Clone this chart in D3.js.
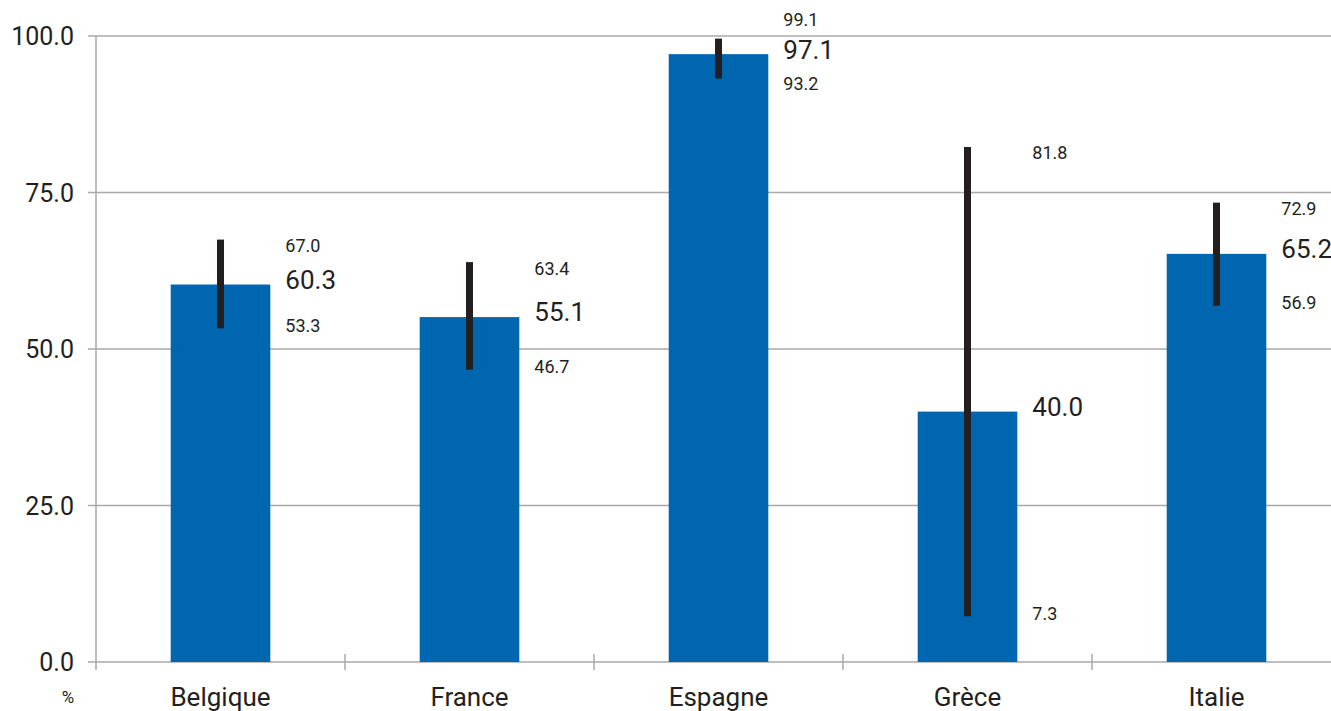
<!DOCTYPE html>
<html><head><meta charset="utf-8">
<script src="https://cdn.jsdelivr.net/npm/d3@7"></script>
<style>body{margin:0;background:#fff}svg{display:block}text{font-family:Roboto,"DejaVu Sans",sans-serif;fill:#231f20}</style>
</head><body>
<svg id="c" width="1331" height="711"></svg>
<script>
const categories = ["Belgique","France","Espagne","Grèce","Italie"];
const values = [60.3,55.1,97.1,40.0,65.2];
const upper = [67.0,63.4,99.1,81.8,72.9];
const lower = [53.3,46.7,93.2,7.3,56.9];
const yTicks = [0,25,50,75,100];
const unitLabel = "%";

(function(){
const svg = d3.select("#c");
const mLeft = 96, mTop = 36, mBottom = 662, mRight = 1341;
const x = d3.scaleBand().domain(categories).range([mLeft,mRight]).paddingInner(0.6).paddingOuter(0.3);
const xb = d3.scaleBand().domain(categories).range([mLeft,mRight]);
const y = d3.scaleLinear().domain([0,100]).range([mBottom,mTop]);

// gridlines
svg.append("g").selectAll("line").data(yTicks).join("line")
  .attr("x1",88).attr("x2",1331).attr("y1",d=>y(d)).attr("y2",d=>y(d))
  .attr("stroke","#a7a9ac").attr("stroke-width",1.5);
// y axis line
svg.append("line").attr("x1",mLeft).attr("x2",mLeft).attr("y1",mTop).attr("y2",mBottom+8)
  .attr("stroke","#a7a9ac").attr("stroke-width",1.5);
// y tick labels
svg.append("g").selectAll("text").data(yTicks).join("text")
  .attr("x",74).attr("y",d=>y(d)).attr("dy","0.36em").attr("text-anchor","end")
  .attr("font-size",25).text(d=>d3.format(".1f")(d));
svg.append("text").attr("x",68).attr("y",703).attr("text-anchor","middle").attr("font-size",17).text(unitLabel);

// category boundary ticks
svg.append("g").selectAll("line").data(categories.slice(1)).join("line")
  .attr("x1",d=>xb(d)).attr("x2",d=>xb(d)).attr("y1",mBottom-8).attr("y2",mBottom+8)
  .attr("stroke","#a7a9ac").attr("stroke-width",1.5);

// bars
svg.append("g").selectAll("rect").data(categories).join("rect")
  .attr("x",d=>x(d)).attr("width",x.bandwidth())
  .attr("y",(d,i)=>y(values[i])).attr("height",(d,i)=>y(0)-y(values[i]))
  .attr("fill","#0066b0");

// error bars
svg.append("g").selectAll("line").data(categories).join("line")
  .attr("x1",d=>x(d)+x.bandwidth()/2).attr("x2",d=>x(d)+x.bandwidth()/2)
  .attr("y1",(d,i)=>y(Math.min(upper[i],100))-3).attr("y2",(d,i)=>y(lower[i]))
  .attr("stroke","#231f20").attr("stroke-width",7);

// labels
const lx = d => x(d)+x.bandwidth()+15;
const gap = 30;
categories.forEach((c,i)=>{
  const my = y(values[i]) - 5;
  let uy = Math.min(y(upper[i]) + 3, my - gap);
  let ly = Math.max(y(lower[i]) - 3, my + gap + 4);
  svg.append("text").attr("x",lx(c)).attr("y",my).attr("dy","0.36em")
    .attr("font-size",26).text(d3.format(".1f")(values[i]));
  svg.append("text").attr("x",lx(c)).attr("y",uy).attr("dy","0.36em")
    .attr("font-size",18).text(d3.format(".1f")(upper[i]));
  svg.append("text").attr("x",lx(c)).attr("y",ly).attr("dy","0.36em")
    .attr("font-size",18).text(d3.format(".1f")(lower[i]));
});

// category labels
svg.append("g").selectAll("text").data(categories).join("text")
  .attr("x",d=>x(d)+x.bandwidth()/2).attr("y",697).attr("dy","0.36em")
  .attr("text-anchor","middle").attr("font-size",26).text(d=>d);
})();
</script>
</body></html>
